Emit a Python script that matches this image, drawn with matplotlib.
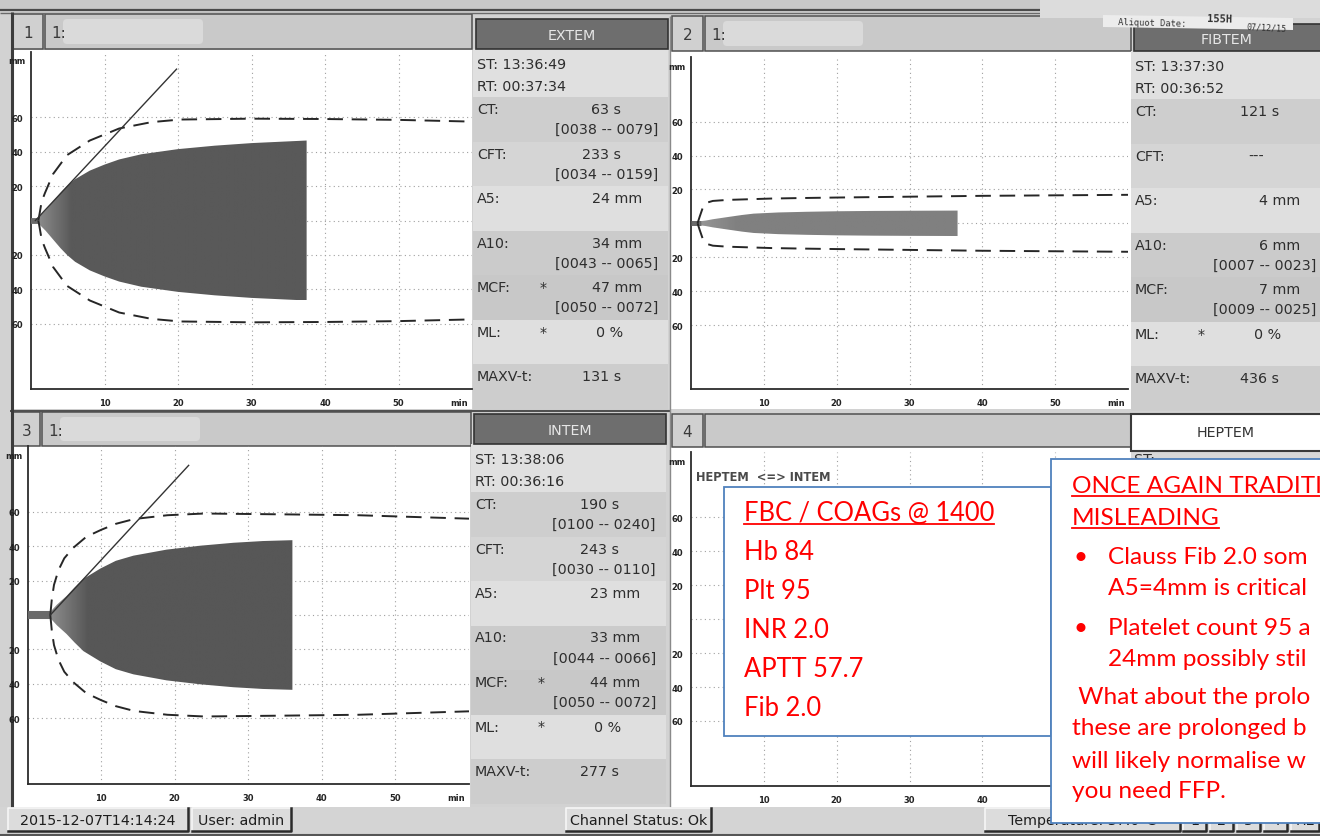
import numpy as np
import matplotlib
matplotlib.use("Agg")
import matplotlib.pyplot as plt
from matplotlib.patches import Rectangle, Polygon, FancyBboxPatch

# ------------------------------------------------------------------ data
time_ticks = [10, 20, 30, 40, 50]
amp_ticks = [60, 40, 20, 0, -20, -40, -60]
amp_tick_labels = ["60", "40", "20", "", "20", "40", "60"]

# EXTEM clot trace (time in min, amplitude in mm)
extem_t = [1.0, 2, 3, 4, 4.9, 6, 8, 10, 12, 15, 20, 25, 30, 35, 37.5]
extem_a = [1.7, 6, 11, 16, 20, 24, 29, 32.5, 35.5, 38.5, 41.5, 43.5, 45, 46, 46.5]
extem_ref_t = [1.0, 1.15, 1.45, 1.9, 2.6, 3.0, 4.9, 8.0, 12.0, 16.4, 20.3, 30, 40, 50, 60]
extem_ref_a = [0, 3.5, 11, 16, 23, 27, 38, 46.5, 53.5, 57.2, 58.7, 59.2, 59, 58.5, 57.5]
extem_tan_t = [0.6, 19.8]
extem_tan_a = [0, 88]
extem_stub_t = [0, 1.0]

# FIBTEM clot trace
fibtem_t = [1.4, 2.0, 3.0, 4.9, 7.0, 8.6, 12, 15.9, 20, 25, 30, 36.6]
fibtem_a = [1.3, 1.6, 2.4, 3.6, 4.9, 5.7, 6.4, 6.8, 7.1, 7.3, 7.4, 7.5]
fibtem_ref_t = [0.9, 1.2, 1.6, 2.2, 3.0, 5, 8, 11, 15, 20, 30, 40, 50, 60]
fibtem_ref_a = [0, 4, 9, 12.2, 13.2, 13.8, 14.2, 14.6, 14.9, 15.2, 15.7, 16.2, 16.5, 16.8]
fibtem_stub_t = [0, 1.4]

# INTEM clot trace
intem_t = [3.2, 4, 5.3, 6.4, 7.6, 9.9, 12, 14.4, 18.9, 23.5, 28, 32, 36.0]
intem_a = [2.3, 6, 11, 16, 21, 27, 31.5, 34.5, 38, 40.3, 42, 43, 43.5]
intem_ref_t = [3.1, 3.3, 3.6, 4.2, 5.0, 6.2, 8.0, 10, 12, 14.5, 19, 24, 35, 45, 60]
intem_ref_a = [0, 9, 17.5, 26, 33, 39, 45.5, 49.5, 53, 55.8, 58, 59, 58.5, 58, 56]
intem_tan_t = [3.1, 21.9]
intem_tan_a = [0, 87]
intem_stub_t = [0, 3.2]

# result tables
param_names = ["CT:", "CFT:", "A5:", "A10:", "MCF:", "ML:", "MAXV-t:"]
param_units = ["s", "s", "mm", "mm", "mm", "%", "s"]

extem_times = ["13:36:49", "00:37:34"]
extem_values = [63, 233, 24, 34, 47, 0, 131]
extem_ranges = ["[0038 -- 0079]", "[0034 -- 0159]", "", "[0043 -- 0065]",
                "[0050 -- 0072]", "", ""]
extem_flags = ["", "", "", "", "*", "*", ""]

fibtem_times = ["13:37:30", "00:36:52"]
fibtem_values = [121, None, 4, 6, 7, 0, 436]
fibtem_ranges = ["", "", "", "[0007 -- 0023]", "[0009 -- 0025]", "", ""]
fibtem_flags = ["", "", "", "", "", "*", ""]

intem_times = ["13:38:06", "00:36:16"]
intem_values = [190, 243, 23, 33, 44, 0, 277]
intem_ranges = ["[0100 -- 0240]", "[0030 -- 0110]", "", "[0044 -- 0066]",
                "[0050 -- 0072]", "", ""]
intem_flags = ["", "", "", "", "*", "*", ""]

lab_title = "FBC / COAGs @ 1400"
lab_lines = ["Hb 84", "Plt 95", "INR 2.0", "APTT 57.7", "Fib 2.0"]

note_title = ["ONCE AGAIN TRADITI", "MISLEADING"]
note_bullets = [["Clauss Fib 2.0 som", "A5=4mm is critical"],
                ["Platelet count 95 a", "24mm possibly stil"]]
note_tail = [" What about the prolo",
             "these are prolonged b",
             "will likely normalise w",
             "you need FFP."]

status_items = ["2015-12-07T14:14:24", "User: admin", "Channel Status: Ok",
                "Temperature: 37.0\u00b0C", "1", "2", "3", "4", "HE"]

# ------------------------------------------------------------------ figure
W, H = 1320, 837
fig = plt.figure(figsize=(W / 100, H / 100), dpi=100)
FACE = "#d2d2d2"
fig.patch.set_facecolor(FACE)
TXT = "#2e2e2e"
UI_FONT = "DejaVu Sans"

bg = fig.add_axes([0, 0, 1, 1], zorder=0)
bg.set_xlim(0, W)
bg.set_ylim(H, 0)
bg.axis("off")


def rect(ax, x0, y0, x1, y1, fc, ec="none", lw=0, z=1):
    p = Rectangle((x0, y0), x1 - x0, y1 - y0, fc=fc, ec=ec, lw=lw, zorder=z)
    ax.add_patch(p)
    return p


def label(ax, x, y, s, size=10.3, color=TXT, ha="left", va="center", **kw):
    kw.setdefault("family", UI_FONT)
    return ax.text(x, y, s, fontsize=size, color=color, ha=ha, va=va, zorder=5, **kw)


# window chrome --------------------------------------------------------
rect(bg, 0, 0, W, 12, "#c8c8c8")
bg.hlines([11.0, 13.5], 0, 1040, colors=["#4a4a4a", "#6a6a6a"], lw=[1.6, 1.0], zorder=3)
rect(bg, 1040, 0, W, 18.5, "#dcdcdc", z=6)
bg.vlines(11.5, 13, 808, color="#3c3c3c", lw=2.2, zorder=4)


def panel_header(cell_x0, cell_x1, strip_x1, y0, y1, num, with_id=True):
    rect(bg, cell_x0, y0, cell_x1, y1, "#d0d0d0", ec="#505050", lw=1.1, z=2)
    rect(bg, cell_x1 + 2, y0, strip_x1, y1, "#c9c9c9", ec="#505050", lw=1.1, z=2)
    label(bg, (cell_x0 + cell_x1) / 2, (y0 + y1) / 2 + 1, num, size=11, color="#3a3a3a",
          ha="center")
    if with_id:
        label(bg, cell_x1 + 8, (y0 + y1) / 2 + 1, "1:", size=11, color="#3a3a3a")
        bg.add_patch(FancyBboxPatch((cell_x1 + 20, y0 + 5), 140, y1 - y0 - 10,
                                    boxstyle="round,pad=0,rounding_size=4",
                                    fc="#dadada", ec="none", zorder=3))


panel_header(13, 43, 472, 15, 50, "1")
panel_header(672, 703, 1131, 17, 52, "2")
panel_header(13, 40, 471, 413, 447, "3")
panel_header(672, 703, 1131, 415, 448, "4", with_id=False)

# white plot areas
rect(bg, 13, 51, 472, 410, "white")
rect(bg, 670, 52, 1131, 410, "white")
rect(bg, 13, 447, 470, 808, "white")
rect(bg, 670, 448, 1131, 808, "white")
bg.hlines(411.5, 10, 670, color="#505050", lw=1.5, zorder=3)
bg.vlines(669.5, 17, 808, color="#8a8a8a", lw=1.0, zorder=3)


def data_panel(left, right, hdr_top, hdr_bot, name, times, values, ranges, flags,
               row_h=44.5):
    shades = ["#cecece", "#d5d5d5", "#dfdfdf", "#cbcbcb", "#c8c8c8", "#dfdfdf", "#cdcdcd"]
    top_rows = hdr_bot + 48
    rect(bg, left, hdr_bot, right, top_rows + 7 * row_h, "#e0e0e0", z=2)
    rect(bg, left + 3, hdr_top, right, hdr_bot, "#6e6e6e", ec="#333333", lw=1.2, z=2)
    label(bg, (left + 3 + min(right, 1320)) / 2, (hdr_top + hdr_bot) / 2 + 1, name,
          color="#e6e6e6", ha="center")
    label(bg, left + 4, hdr_bot + 15, "ST: " + times[0])
    label(bg, left + 4, hdr_bot + 37, "RT: " + times[1])
    value_edge = {"s": 148, "mm": 169, "%": 150}
    y = top_rows
    for i in range(7):
        rect(bg, left, y, right, y + row_h, shades[i], z=2)
        label(bg, left + 4, y + 12, param_names[i])
        if flags[i]:
            label(bg, left + 67, y + 12, flags[i])
        if values[i] is None:
            label(bg, left + 125, y + 12, "---", ha="center")
        else:
            label(bg, left + value_edge[param_units[i]], y + 12,
                  f"{values[i]} {param_units[i]}", ha="right")
        if ranges[i]:
            label(bg, left + 185, y + 32, ranges[i], ha="right")
        y += row_h


data_panel(473, 668, 20, 50, "EXTEM", extem_times, extem_values, extem_ranges, extem_flags)
data_panel(1131, 1330, 25, 52, "FIBTEM", fibtem_times, fibtem_values, fibtem_ranges,
           fibtem_flags)
data_panel(471, 666, 415, 445, "INTEM", intem_times, intem_values, intem_ranges, intem_flags)

# HEPTEM tab
rect(bg, 1131, 452, 1330, 808, "#d8d8d8", z=2)
rect(bg, 1131, 415, 1330, 452, "white", ec="#3a3a3a", lw=1.5, z=3)
label(bg, 1226, 433, "HEPTEM", color="#333333", ha="center")
label(bg, 1134, 460, "ST:")

# sample sticker on the FIBTEM tab
bg.add_patch(Polygon([(1103, 16), (1293, 19), (1293, 31), (1103, 28)], closed=True,
                     fc="#ececec", ec="none", zorder=7))
bg.text(1118, 23, "Aliquot Date:", fontsize=6.3, family="DejaVu Sans Mono", color="#333",
        va="center", rotation=-1.5, zorder=8)
bg.text(1207, 19.5, "155H", fontsize=7.5, family="DejaVu Sans Mono", weight="bold",
        color="#333", va="center", rotation=-1.5, zorder=8)
bg.text(1246, 28, "07/12/15", fontsize=6.0, family="DejaVu Sans Mono", color="#333",
        va="center", rotation=-3, zorder=8)

# status bar -------------------------------------------------------------
rect(bg, 0, 808, W, H, "#d4d4d4", z=2)
bg.hlines(835.5, 0, W, color="#555555", lw=1.5, zorder=3)
status_boxes = [(8, 188), (192, 291), (566, 711), (985, 1180), (1183, 1206),
                (1210, 1233), (1237, 1260), (1264, 1287), (1291, 1319)]
for (x0, x1), s in zip(status_boxes, status_items):
    rect(bg, x0, 809, x1, 832, "#dcdcdc", z=3)
    bg.plot([x0, x0, x1], [832, 809, 809], color="#f6f6f6", lw=1.2, zorder=4)
    bg.plot([x0, x1, x1], [832, 832, 809], color="#2a2a2a", lw=1.8, zorder=4)
    label(bg, (x0 + x1) / 2, 821, s, size=10.3, color="#1e1e1e", ha="center")


# ------------------------------------------------------------------ traces
def trace_axes(x0, x60, y_zero, px_per_mm):
    top = y_zero - 98 * px_per_mm
    bot = y_zero + 98 * px_per_mm
    ax = fig.add_axes([x0 / W, 1 - bot / H, (x60 - x0) / W, (bot - top) / H], zorder=2)
    ax.patch.set_visible(False)
    for s in ("top", "right"):
        ax.spines[s].set_visible(False)
    for s in ("left", "bottom"):
        ax.spines[s].set_color("#2c2c2c")
        ax.spines[s].set_linewidth(1.3)
    ax.set_xticks(time_ticks)
    ax.set_xticklabels([str(v) for v in time_ticks])
    ax.set_yticks(amp_ticks)
    ax.set_yticklabels(amp_tick_labels)
    ax.tick_params(length=0, labelsize=6, colors="#222222")
    ax.tick_params(axis="x", pad=6.5)
    ax.tick_params(axis="y", pad=5.5)
    for lab in ax.get_xticklabels() + ax.get_yticklabels():
        lab.set_fontweight("bold")
    ax.grid(True, color="#a0a0a0", lw=0.8, ls=(0, (1, 3)))
    ax.set_axisbelow(True)
    ax.annotate("min", xy=(58.3, 0), xycoords=("data", "axes fraction"),
                xytext=(0, -6.5), textcoords="offset points", ha="center", va="top",
                fontsize=6, weight="bold", color="#222222")
    ax.annotate("mm", xy=(0, 1), xycoords="axes fraction", xytext=(-14, -9),
                textcoords="offset pixels", ha="center", va="center",
                fontsize=6, weight="bold", color="#222222")
    return ax


def draw_trace(ax, t, a, stub_t, stub_lw, shade0, shade1, ramp):
    t = np.asarray(t, float)
    a = np.asarray(a, float)
    verts = np.column_stack([np.r_[t, t[::-1]], np.r_[a, -a[::-1]]])
    poly = Polygon(verts, closed=True, fc="none", ec="none")
    ax.add_patch(poly)
    xs = np.linspace(t[0], t[-1], 400)
    shade = np.interp(xs, [t[0], t[0] + ramp], [shade0, shade1])
    im = ax.imshow(shade[None, :], extent=[t[0], t[-1], -a.max(), a.max()], cmap="gray",
                   vmin=0, vmax=1, aspect="auto", interpolation="bilinear",
                   origin="lower", zorder=2)
    im.set_clip_path(poly)
    ax.plot(stub_t, [0, 0], color="#6a6a6a", lw=stub_lw, solid_capstyle="butt", zorder=3)


def draw_reference(ax, t, a):
    a = np.asarray(a, float)
    for sign in (1, -1):
        ax.plot(t, sign * a, color="#262626", lw=1.4, ls=(0, (8, 4.5)), zorder=4)


ax1 = trace_axes(31, 472, 221.5, 1.72)
draw_trace(ax1, extem_t, extem_a, extem_stub_t, 4.2, 0.55, 0.35, 4.5)
draw_reference(ax1, extem_ref_t, extem_ref_a)
ax1.plot(extem_tan_t, extem_tan_a, color="#333333", lw=1.0, zorder=4)

ax2 = trace_axes(691, 1128, 224.3, 1.695)
draw_trace(ax2, fibtem_t, fibtem_a, fibtem_stub_t, 3.6, 0.58, 0.5, 5)
draw_reference(ax2, fibtem_ref_t, fibtem_ref_a)

ax3 = trace_axes(27.5, 469, 616, 1.72)
draw_trace(ax3, intem_t, intem_a, intem_stub_t, 5.8, 0.55, 0.34, 5)
draw_reference(ax3, intem_ref_t, intem_ref_a)
ax3.plot(intem_tan_t, intem_tan_a, color="#333333", lw=1.0, zorder=4)

ax4 = trace_axes(691, 1128, 620, 1.70)
ax4.text(0.012, 0.927, "HEPTEM  <=> INTEM", transform=ax4.transAxes, fontsize=8.3,
         weight="bold", color="#4a4a4a", va="center", family=UI_FONT)

for ax in (ax1, ax2, ax3, ax4):
    ax.set_xlim(0, 60)
    ax.set_ylim(-98, 98)

# ------------------------------------------------------------------ notes
ov = fig.add_axes([0, 0, 1, 1], zorder=6)
ov.set_xlim(0, W)
ov.set_ylim(H, 0)
ov.axis("off")

RED = "#ff0000"
BLUE = "#4f81bd"
NOTE_FONT = "Lato"
rect(ov, 724, 488, 1051, 737, "white", ec=BLUE, lw=1.3, z=1)
rect(ov, 1051, 460, 1340, 824, "white", ec=BLUE, lw=1.3, z=1)

underlined = []


def note(x, y, s, size, ul=False):
    t = ov.text(x, y, s, fontsize=size, color=RED, family=NOTE_FONT, ha="left",
                va="baseline", zorder=3)
    if ul:
        underlined.append((t, y + 4))
    return t


note(744, 521, lab_title, 18.4, ul=True)
for i, s in enumerate(lab_lines):
    note(744, 560 + 39 * i, s, 18.4)

NB = 17.6
note(1071.6, 493, note_title[0], NB, ul=True)
note(1071.6, 525, note_title[1], NB, ul=True)
bullet_y = [564, 635]
for yb, pair in zip(bullet_y, note_bullets):
    note(1073, yb, "\u2022", NB)
    note(1108, yb, pair[0], NB)
    note(1108, yb + 31, pair[1], NB)
for yb, s in zip([704, 735, 768, 798], note_tail):
    note(1071.6, yb, s, NB)

fig.canvas.draw()
renderer = fig.canvas.get_renderer()
inv = ov.transData.inverted()
for t, yl in underlined:
    bb = t.get_window_extent(renderer)
    xa = inv.transform((bb.x0, bb.y0))[0]
    xb = inv.transform((bb.x1, bb.y0))[0]
    ov.plot([xa, xb], [yl, yl], color=RED, lw=1.3, zorder=3)

fig.savefig("out.png", dpi=100, facecolor=FACE)
